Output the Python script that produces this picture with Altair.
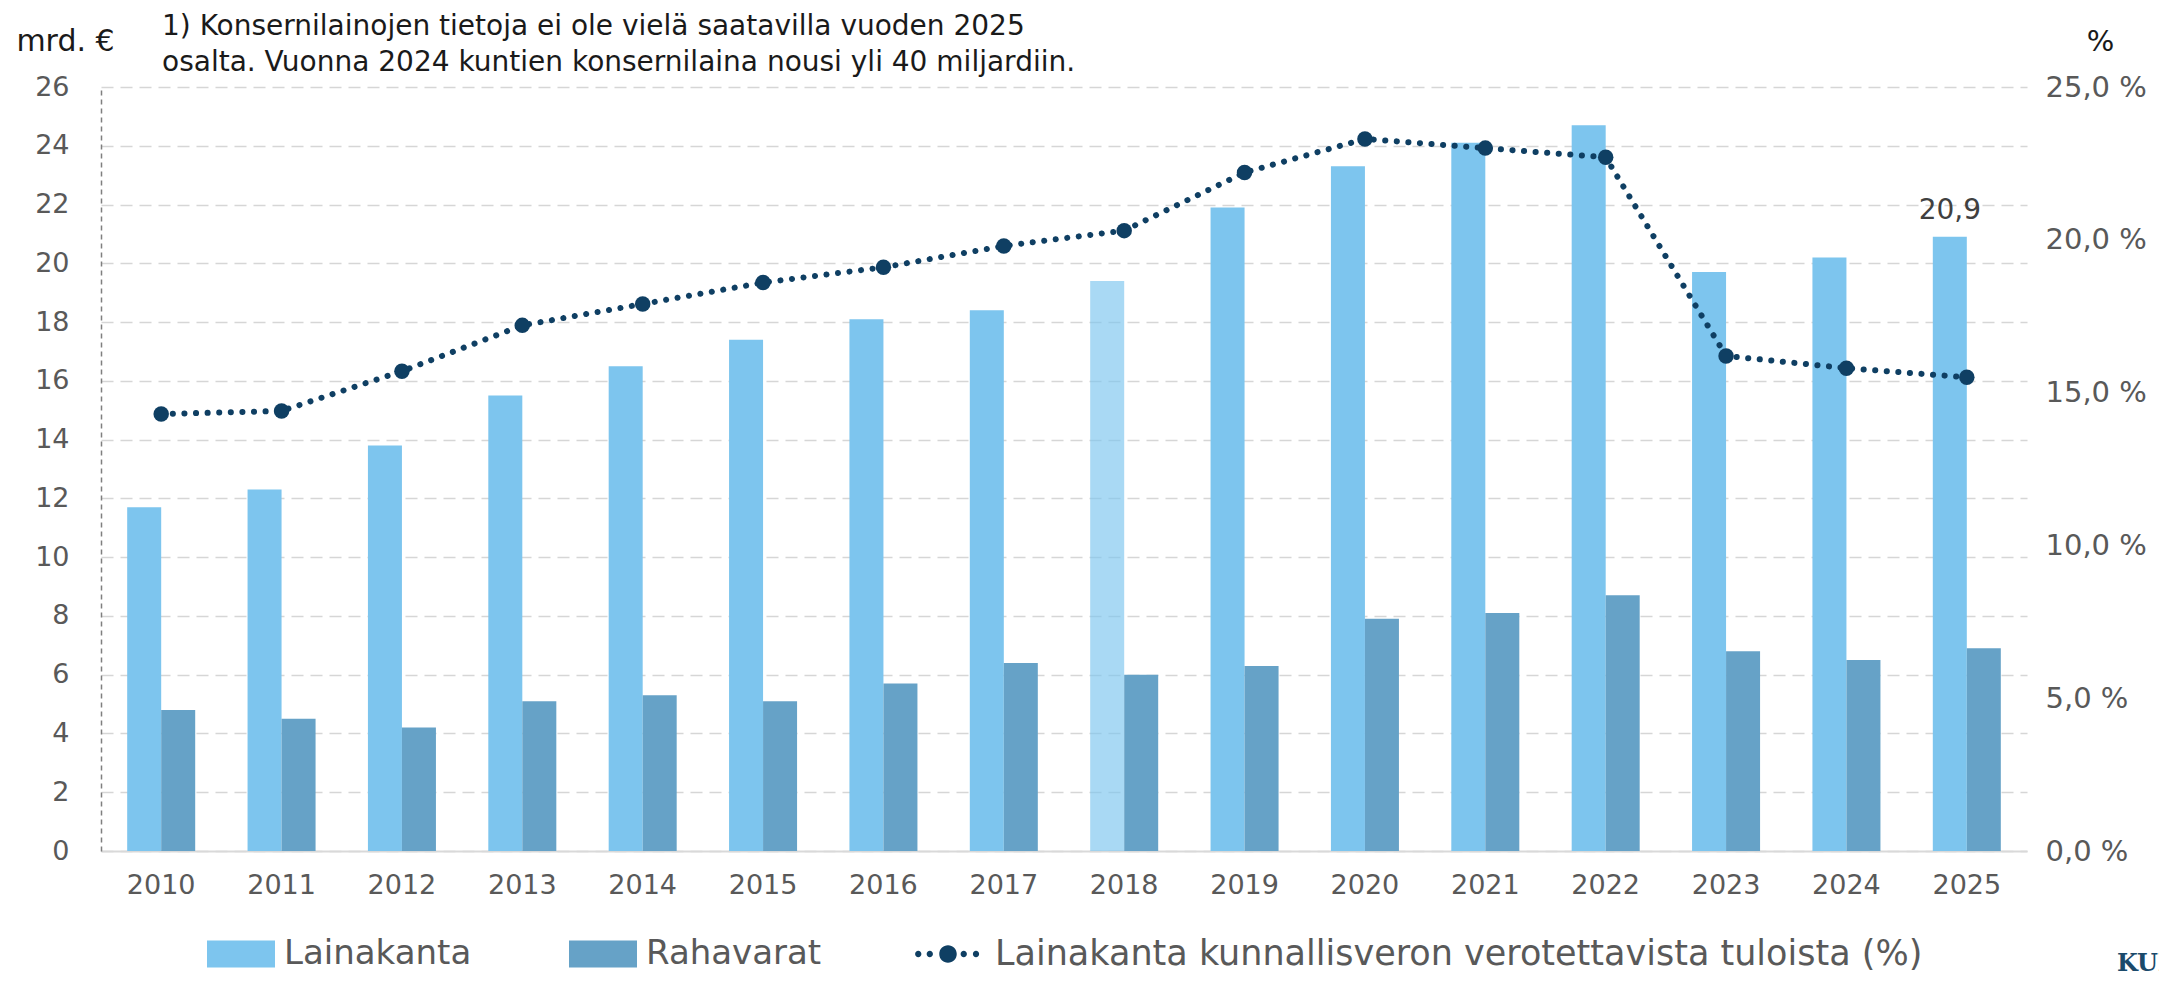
import altair as alt
import pandas as pd

years = [str(y) for y in range(2010, 2026)]
lainakanta = [11.7, 12.3, 13.8, 15.5, 16.5, 17.4, 18.1, 18.4, 19.4, 21.9, 23.3, 24.1, 24.7, 19.7, 20.2, 20.9]
rahavarat = [4.8, 4.5, 4.2, 5.1, 5.3, 5.1, 5.7, 6.4, 6.0, 6.3, 7.9, 8.1, 8.7, 6.8, 6.5, 6.9]
osuus = [14.3, 14.4, 15.7, 17.2, 17.9, 18.6, 19.1, 19.8, 20.3, 22.2, 23.3, 23.0, 22.7, 16.2, 15.8, 15.5]

series_names = ["Lainakanta", "Rahavarat"]
line_name = "Lainakanta kunnallisveron verotettavista tuloista (%)"
title_lines = ["1) Konsernilainojen tietoja ei ole vielä saatavilla vuoden 2025",
               "osalta. Vuonna 2024 kuntien konsernilaina nousi yli 40 miljardiin."]

bars_df = pd.DataFrame({
    "year": years * 2,
    "series": [series_names[0]] * len(years) + [series_names[1]] * len(years),
    "value": lainakanta + rahavarat,
})
line_df = pd.DataFrame({"year": years, "pct": osuus, "name": [line_name] * len(years)})

FONT = "DejaVu Sans"
LABEL = "#595959"
C_LAINA = "#7dc5ee"
C_RAHA = "#66a2c7"
C_LINE = "#0f3f63"

W, H = 1926, 764

x_enc = alt.X("year:O", title=None,
              scale=alt.Scale(paddingInner=0.435, paddingOuter=0.2175),
              axis=alt.Axis(labelAngle=0, ticks=False, labelPadding=21, labelFontSize=27,
                            labelFont=FONT, labelColor=LABEL, domainColor="#d9d9d9",
                            domainWidth=2, grid=False))

left_axis = alt.Axis(values=list(range(0, 27, 2)), title="mrd. €", titleAngle=0,
                     titleX=-36, titleY=-46, titleAlign="center", titleBaseline="middle",
                     titleFont=FONT, titleFontSize=30, titleFontWeight="normal", titleColor="#1a1a1a",
                     labelFont=FONT, labelFontSize=27, labelColor=LABEL, labelPadding=32,
                     ticks=False, domainColor="#7f7f7f", domainDash=[5, 4], domainWidth=1.5,
                     grid=True, gridColor="#d6d6d6", gridDash=[12, 7], gridWidth=1.6)

bar_legend = alt.Legend(orient="none", legendX=106, legendY=833, direction="horizontal", title=None,
                        symbolType="M-1,-0.4H1V0.4H-1Z", symbolSize=4624, symbolStrokeWidth=0,
                        labelFont=FONT, labelFontSize=34, labelColor=LABEL, labelOffset=9,
                        labelLimit=0, columnPadding=97, padding=0)

bars = alt.Chart(bars_df).mark_bar().encode(
    x=x_enc,
    xOffset=alt.XOffset("series:N", sort=series_names, scale=alt.Scale(paddingInner=0)),
    y=alt.Y("value:Q", scale=alt.Scale(domain=[0, 26], nice=False), axis=left_axis),
    color=alt.Color("series:N", sort=series_names,
                    scale=alt.Scale(domain=series_names, range=[C_LAINA, C_RAHA]),
                    legend=bar_legend),
    opacity=alt.condition("datum.year == '2018' && datum.series == 'Lainakanta'",
                          alt.value(0.66), alt.value(1)),
)

label = alt.Chart(bars_df).transform_filter(
    "datum.year == '2025' && datum.series == 'Lainakanta'"
).transform_calculate(
    lbl="replace(format(datum.value, '.1f'), '.', ',')"
).mark_text(dy=-12, fontSize=28, font=FONT, color="#404040", baseline="bottom").encode(
    x=alt.X("year:O"),
    xOffset=alt.XOffset("series:N", sort=series_names),
    y=alt.Y("value:Q"),
    text="lbl:N",
)

left = alt.layer(bars, label)

right_axis = alt.Axis(orient="right", values=[0, 5, 10, 15, 20, 25], title="%", titleAngle=0,
                      titleX=73, titleY=-46, titleAlign="center", titleBaseline="middle",
                      titleFont=FONT, titleFontSize=29, titleFontWeight="normal", titleColor="#1a1a1a",
                      labelExpr="replace(format(datum.value, '.1f'), '.', ',') + ' %'",
                      labelFont=FONT, labelFontSize=29, labelColor=LABEL, labelPadding=18,
                      ticks=False, domain=False, grid=False)

r = 0.09
def dot(cx, rr):
    return f"M{cx - rr},0a{rr},{rr} 0 1,0 {2 * rr},0a{rr},{rr} 0 1,0 {-2 * rr},0"
line_symbol = dot(-0.85, r) + dot(-0.52, r) + dot(0, 0.25) + dot(0.45, r) + dot(0.8, r)

line_legend = alt.Legend(orient="none", legendX=812, legendY=832, direction="horizontal", title=None,
                         symbolType=line_symbol, symbolSize=4900, symbolStrokeWidth=0,
                         labelFont=FONT, labelFontSize=35, labelColor=LABEL, labelOffset=12,
                         labelLimit=0, padding=0)

y_r = alt.Y("pct:Q", scale=alt.Scale(domain=[0, 25], nice=False), axis=right_axis)

line = alt.Chart(line_df).mark_line(strokeDash=[0.1, 11.5], strokeCap="round", strokeWidth=6,
                                    color=C_LINE).encode(x=alt.X("year:O"), y=y_r)
points = alt.Chart(line_df).mark_circle(size=240, opacity=1).encode(
    x=alt.X("year:O"),
    y=alt.Y("pct:Q"),
    color=alt.Color("name:N", scale=alt.Scale(domain=[line_name], range=[C_LINE]), legend=line_legend),
)
right = alt.layer(line, points)

logo = alt.Chart(pd.DataFrame({"t": ["KUNTALIITTO"]})).mark_text(
    font="DejaVu Serif", fontWeight="bold", fontSize=24, color="#1b4a6b", align="left",
    baseline="alphabetic"
).encode(text="t:N", x=alt.value(2016), y=alt.value(884))

chart = alt.layer(left, right, logo).resolve_scale(
    y="independent", color="independent"
).properties(
    width=W, height=H,
    autosize=alt.AutoSizeParams(type="none"),
    padding={"left": 93, "top": 79, "right": 132, "bottom": 122},
    title=alt.TitleParams(text=title_lines, anchor="start", frame="group", dx=61, offset=-51,
                          fontSize=28, font=FONT, fontWeight="normal", color="#1a1a1a",
                          lineHeight=36),
).configure_view(stroke=None)

chart.save("out.html", embed_options={"renderer": "svg", "actions": False})
